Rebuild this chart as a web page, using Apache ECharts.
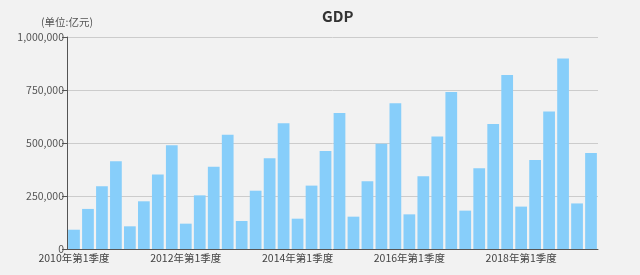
<!DOCTYPE html>
<html><head><meta charset="utf-8">
<script src="https://cdn.jsdelivr.net/npm/echarts@6/dist/echarts.min.js"></script>
<style>html,body{margin:0;padding:0;background:#f2f2f2}#c{width:640px;height:275px}</style>
</head><body><div id="c"></div>
<script>
var years = [2010, 2011, 2012, 2013, 2014, 2015, 2016, 2017, 2018, 2019];
var quarters = ['第1季度', '第2季度', '第3季度', '第4季度'];
var categories = [];
years.forEach(function (y) { quarters.forEach(function (q) { categories.push(y + '年' + q); }); });
categories = categories.slice(0, 38);
var gdpValues = [
  91000, 189000, 296000, 414000,
  107000, 225000, 352000, 489000,
  119500, 253000, 388000, 539000,
  132000, 275000, 428000, 593000,
  143000, 299000, 462000, 641500,
  152500, 319000, 497000, 687000,
  163500, 343000, 531000, 740600,
  181000, 380500, 590000, 821000,
  200000, 420000, 648000, 899000,
  215000, 453000
];
var yTicks = [0, 250000, 500000, 750000, 1000000];
var font = '"Noto Sans CJK SC", "Noto Sans", sans-serif';
var chart = echarts.init(document.getElementById('c'), null, {renderer: 'canvas'});
chart.setOption({
  backgroundColor: '#f2f2f2',
  animation: false,
  title: {text: 'GDP', left: 317, top: 4, textStyle: {fontSize: 15, fontWeight: 'bold', color: '#333', fontFamily: font}},
  grid: {left: 67, right: 42, top: 37, bottom: 26},
  xAxis: {
    type: 'category', data: categories,
    axisLine: {lineStyle: {color: '#555', width: 1}},
    axisTick: {interval: 7, length: 4, lineStyle: {color: '#555'}},
    axisLabel: {interval: 7, color: '#444', fontSize: 10.5, margin: 4, fontFamily: font}
  },
  yAxis: {
    type: 'value', min: yTicks[0], max: yTicks[yTicks.length - 1], interval: 250000,
    name: '(单位:亿元)', nameGap: 10,
    nameTextStyle: {color: '#555', fontSize: 10.5, fontFamily: font, align: 'center', padding: [0, 0, 0, 0]},
    axisLine: {show: true, lineStyle: {color: '#555', width: 1}},
    axisTick: {show: true, length: 5, lineStyle: {color: '#555'}},
    axisLabel: {color: '#555', fontSize: 10.5, margin: 3, fontFamily: font,
      formatter: function (v) { return v.toLocaleString('en-US'); }},
    splitLine: {lineStyle: {color: '#cccccc'}}
  },
  series: [{
    type: 'bar', data: gdpValues, barCategoryGap: '16%',
    itemStyle: {color: '#87cefa'}
  }]
});
</script></body></html>
